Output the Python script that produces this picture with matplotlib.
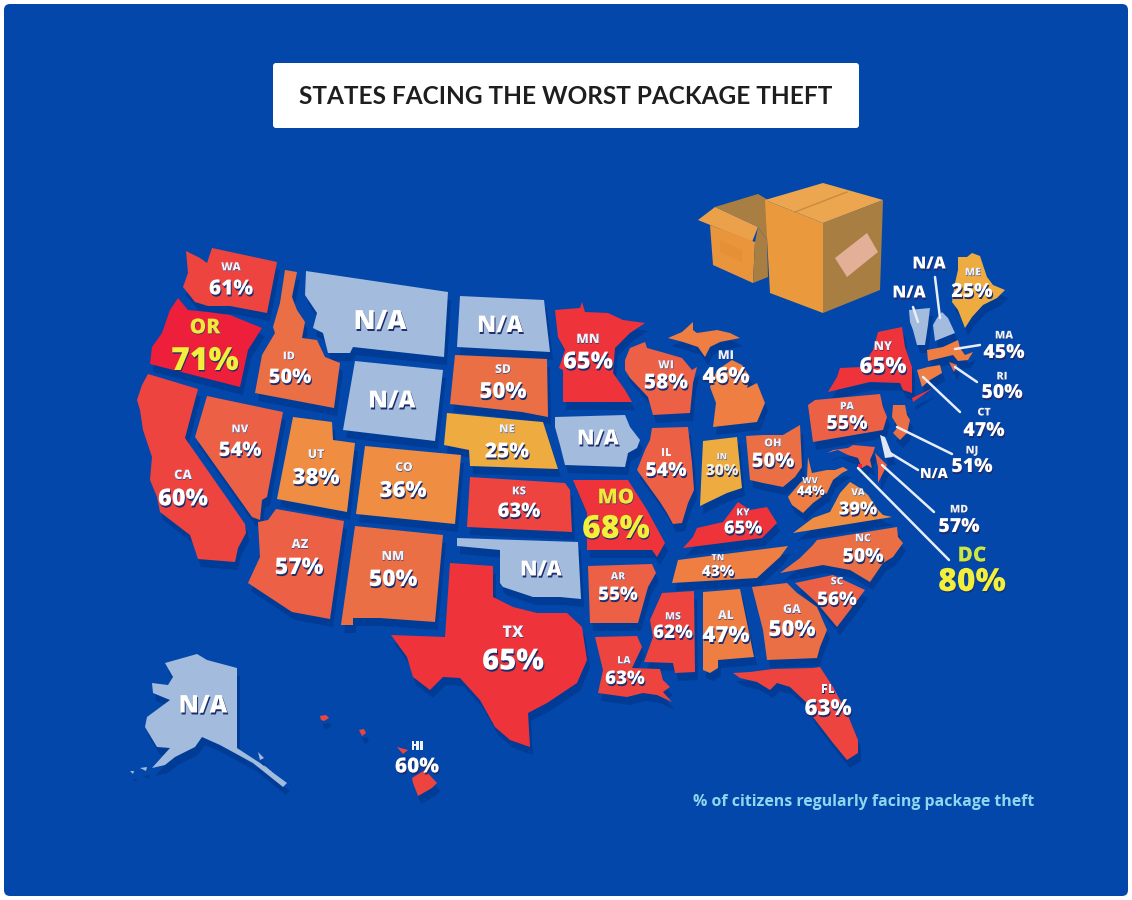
import matplotlib
matplotlib.use("Agg")
import matplotlib.pyplot as plt
import matplotlib.patheffects as pe
from matplotlib.patches import FancyBboxPatch

BG = '#0447aa'
SHADOW = '#003c96'
NA_COLOR = '#a3bbdc'

STATES = ['WA', 'OR', 'CA', 'NV', 'ID', 'MT', 'WY', 'UT', 'CO', 'AZ', 'NM', 'ND', 'SD', 'NE', 'KS', 'OK', 'TX',
          'MN', 'IA', 'MO', 'AR', 'LA', 'WI', 'IL', 'MI', 'IN', 'OH', 'KY', 'TN', 'MS', 'AL', 'GA', 'FL', 'SC', 'NC',
          'VA', 'WV', 'PA', 'NY', 'ME', 'VT', 'NH', 'MA', 'RI', 'CT', 'NJ', 'DE', 'MD', 'DC', 'AK', 'HI']
VALUES = [61, 71, 60, 54, 50, None, None, 38, 36, 57, 50, None, 50, 25, 63, None, 65,
          65, None, 68, 55, 63, 58, 54, 46, 30, 50, 65, 43, 62, 47, 50, 63, 56, 50,
          39, 44, 55, 65, 25, None, None, 45, 50, 47, 51, None, 57, 80, None, 60]

# state outlines, in image pixels
SHAPES = {
    'WA': [[(186,251),(200,258),(207,263),(212,248),(277,262),(267,313),(230,306),(208,306),(195,302),(183,287),(188,273)]],
    'OR': [[(178,298),(188,310),(208,312),(230,315),(262,328),(248,350),(240,387),(150,364),(152,347),(162,333),(170,310)]],
    'CA': [[(148,374),(198,389),(185,438),(245,524),(246,533),(238,548),(235,562),(198,559),(190,535),(160,512),(157,497),(150,480),(152,457),(143,430),(140,410),(137,400),(142,385)]],
    'NV': [[(207,396),(283,412),(267,497),(262,500),(260,520),(252,517),(195,437)]],
    'ID': [[(285,270),(297,272),(292,297),(297,310),(305,322),(302,338),(317,340),(325,357),(340,363),(334,408),(255,393),(262,355),(275,333),(273,327),(280,303)]],
    'MT': [[(306,271),(448,292),(444,357),(353,347),(350,353),(328,353),(323,333),(313,328),(317,313),(305,295)]],
    'WY': [[(355,361),(443,370),(435,441),(343,430)]],
    'UT': [[(293,417),(332,422),(333,440),(355,443),(347,512),(277,499)]],
    'CO': [[(365,446),(461,455),(455,524),(356,514)]],
    'AZ': [[(276,509),(344,521),(330,619),(292,612),(248,583),(260,557),(258,522),(268,520)]],
    'NM': [[(355,526),(443,535),(435,622),(380,618),(353,618),(353,625),(341,625)]],
    'ND': [[(460,296),(544,300),(550,352),(457,347)]],
    'SD': [[(455,355),(547,359),(548,417),(522,412),(450,404)]],
    'NE': [[(447,413),(520,420),(543,422),(558,469),(470,466),(469,450),(444,445)]],
    'KS': [[(470,477),(565,483),(570,490),(572,532),(467,527)]],
    'OK': [[(457,538),(578,542),(581,599),(560,597),(533,597),(503,587),(500,583),(500,550),(457,546)]],
    'TX': [[(450,563),(493,566),(493,597),(513,607),(537,613),(567,613),(582,627),(587,660),(577,683),(547,703),(528,713),(530,747),(510,740),(495,727),(480,700),(460,678),(443,677),(430,690),(413,677),(407,657),(391,635),(445,637)]],
    'MN': [[(555,310),(580,308),(582,302),(585,312),(608,313),(623,320),(645,323),(630,333),(615,348),(613,373),(625,390),(632,402),(563,402),(563,370),(559,368),(565,350),(558,337)]],
    'IA': [[(555,417),(625,415),(630,427),(640,440),(637,448),(628,453),(625,467),(565,465),(560,445),(555,427)]],
    'MO': [[(573,480),(628,480),(647,510),(665,543),(657,557),(652,550),(587,550),(587,513)]],
    'AR': [[(588,566),(652,564),(656,573),(648,587),(638,623),(590,623)]],
    'LA': [[(595,637),(637,636),(642,647),(632,668),(660,669),(663,680),(670,687),(663,692),(672,702),(657,695),(643,693),(627,697),(598,693),(603,670)]],
    'WI': [[(625,360),(630,348),(645,342),(647,348),(665,353),(682,358),(692,370),(697,367),(693,383),(690,413),(653,415),(648,397),(630,378),(625,370)]],
    'IL': [[(652,428),(688,427),(692,463),(694,490),(688,503),(682,523),(673,524),(667,513),(660,502),(637,470),(645,450),(650,440)]],
    'MI': [[(668,338),(682,332),(693,322),(693,330),(697,333),(717,330),(730,333),(740,338),(720,342),(710,347),(705,357),(698,347),(683,342)],
           [(732,360),(742,365),(750,377),(747,388),(757,383),(765,403),(757,422),(713,427),(716,403),(710,387),(717,370)]],
    'IN': [[(703,441),(737,437),(742,488),(727,493),(700,506)]],
    'OH': [[(746,436),(763,435),(783,435),(800,425),(802,467),(795,477),(783,487),(763,483),(750,480)]],
    'KY': [[(738,502),(750,510),(767,507),(777,523),(762,538),(683,548),(693,537),(697,528),(723,522)]],
    'TN': [[(678,560),(788,546),(780,557),(757,578),(672,583)]],
    'MS': [[(662,593),(694,591),(695,672),(675,673),(673,663),(644,662),(653,637),(650,620)]],
    'AL': [[(703,592),(740,589),(754,657),(718,660),(718,668),(710,673),(703,670)]],
    'GA': [[(752,587),(787,583),(797,593),(817,607),(827,630),(820,647),(817,658),(767,660),(763,630)]],
    'FL': [[(733,673),(750,672),(773,669),(813,668),(820,667),(833,687),(847,713),(858,740),(858,753),(847,760),(833,743),(823,730),(813,717),(807,703),(790,687),(777,683),(770,690),(757,682),(740,678)]],
    'SC': [[(795,583),(833,575),(865,590),(850,610),(837,627),(817,603)]],
    'NC': [[(897,527),(898,537),(903,543),(893,557),(883,563),(870,582),(850,570),(823,565),(780,573),(800,558),(813,545),(817,540)]],
    'VA': [[(850,482),(860,488),(868,495),(878,510),(883,515),(892,517),(793,533),(813,518),(830,512),(840,493)]],
    'WV': [[(808,457),(812,473),(827,470),(835,470),(843,467),(848,470),(842,473),(833,480),(827,493),(813,503),(803,513),(792,505),(788,497),(800,483),(807,477)]],
    'PA': [[(808,405),(815,400),(880,394),(883,407),(887,417),(883,430),(813,442)]],
    'NY': [[(878,332),(902,327),(905,347),(912,367),(912,393),(903,390),(900,383),(870,382),(828,392),(837,377),(840,368),(862,367),(873,350)],
           [(912,398),(933,388),(913,402)]],
    'ME': [[(958,257),(967,257),(972,253),(980,256),(987,277),(993,285),(1005,290),(997,298),(983,305),(972,317),(965,328),(958,310),(952,302),(955,283),(958,270)]],
    'VT': [[(909,310),(930,308),(928,325),(925,345),(917,345),(913,330),(910,322)]],
    'NH': [[(937,318),(942,312),(948,318),(955,333),(935,341),(933,325)]],
    'MA': [[(927,350),(943,347),(958,340),(960,348),(965,355),(973,352),(968,360),(958,361),(953,355),(928,361)]],
    'RI': [[(949,362),(957,365),(954,372)]],
    'CT': [[(917,370),(928,367),(940,365),(942,373),(930,380),(922,387)]],
    'NJ': [[(893,405),(905,405),(907,415),(910,420),(907,433),(900,440),(893,433),(898,427),(892,417)]],
    'DE': [[(880,435),(885,437),(893,457),(885,458)]],
    'MD': [[(827,453),(833,450),(848,448),(853,445),(875,447),(873,453),(870,460),(872,468),(867,465),(862,468),(858,458),(848,455),(838,450)],
           [(875,453),(887,465),(878,483),(878,467)]],
    'DC': [[(858,464),(862,464),(862,468),(858,468)]],
    'AK': [[(165,663),(197,654),(207,660),(237,668),(237,748),(260,763),(287,783),(283,787),(253,763),(220,745),(202,737),(195,747),(175,757),(165,765),(152,768),(170,748),(157,747),(145,727),(147,717),(170,700),(153,693),(152,683),(168,685),(173,677)],
           [(258,752),(264,758),(260,760)], [(264,765),(272,772),(268,774)], [(140,768),(147,767),(146,771)], [(130,771),(134,771),(133,774)]],
    'HI': [[(412,778),(425,770),(437,783),(432,788),(418,796),(413,783)], [(397,747),(408,750),(403,754)],
           [(320,716),(326,715),(329,718),(324,721),(321,720)], [(359,730),(364,729),(366,733),(362,736)]],
}

# abbr x, abbr y, value x, value y, value size
LABELS = {
    'WA': (231,268,231,289,15), 'OR': (205,328,205,362,23), 'CA': (183,476,183,499,17), 'ID': (289,357,290,378,14.5),
    'NV': (240,430,240,451,14.5), 'UT': (316,455,316,478,16), 'CO': (404,468,403,491,16), 'AZ': (300,545,299,568,16.5),
    'NM': (393,557,393,580,16.5), 'SD': (503,370,503,392,16), 'NE': (507,430,507,452,15), 'KS': (519,492,519,512,14.5),
    'TX': (513,633,513,662,21), 'MN': (588,340,588,362,17), 'WI': (666,366,666,383,15), 'MI': (726,356,726,377,16),
    'IL': (666,453,666,471,14), 'IN': (722,457,722,471,11), 'OH': (773,444,773,462,14.5), 'WV': (810,481,811,492,9.5),
    'VA': (858,493,858,510,13), 'KY': (743,513,743,529,13), 'TN': (718,558,718,572,11), 'NC': (863,539,863,557,14),
    'SC': (837,582,837,600,13.5), 'GA': (792,610,792,630,16), 'AL': (726,616,726,636,16), 'MS': (673,617,673,633,13.5),
    'LA': (624,661,625,679,13.5), 'AR': (618,577,618,595,13.5), 'MO': (616,498,616,530,23), 'FL': (828,690,828,709,16),
    'PA': (847,407,847,424,14), 'NY': (883,347,883,367,16), 'ME': (973,273,972,292,14), 'HI': (417,747,417,767,15),
    'MA': (1004,336,1004,353,14), 'RI': (1002,377,1002,393,14), 'CT': (984,413,984,431,14), 'NJ': (972,451,972,467,14),
    'MD': (959,510,959,527,14), 'DC': (972,556,972,583,23),
}
# x, y, size
NA_LABELS = {
    'MT': (380,322,19), 'WY': (392,401,17), 'ND': (500,326,16.5), 'OK': (541,570,15), 'IA': (598,439,15),
    'AK': (203,706,17.5), 'DE': (934,474,10), 'VT': (909,293,12), 'NH': (929,264,12),
}
LEADERS = [((980,345),(955,349)), ((977,382),(955,367)), ((960,412),(923,377)), ((952,454),(897,427)),
           ((918,470),(890,453)), ((934,512),(882,465)), ((949,560),(858,468)), ((918,322),(913,307)),
           ((940,318),(935,277))]


def stateColor(v):
    if v is None:
        return NA_COLOR
    if v >= 70:
        return '#ee1f3a'
    if v >= 64:
        return '#ee343a'
    if v >= 60:
        return '#ee4440'
    if v >= 53:
        return '#ec6146'
    if v >= 48:
        return '#eb6f45'
    if v >= 40:
        return '#ee7e42'
    if v >= 33:
        return '#ef8e43'
    return '#eeac40'


fig = plt.figure(figsize=(11.32, 9), dpi=100, facecolor='white')
ax = fig.add_axes([0, 0, 1, 1])
ax.set_xlim(0, 1132)
ax.set_ylim(900, 0)
ax.axis('off')

ax.add_patch(FancyBboxPatch((8, 8), 1116, 884, boxstyle='round,pad=4,rounding_size=6', fc=BG, ec='none'))
ax.add_patch(FancyBboxPatch((275, 65), 582, 61, boxstyle='round,pad=2,rounding_size=3', fc='white', ec='none'))
ax.text(566, 96, 'STATES FACING THE WORST PACKAGE THEFT', family='Lato', weight='bold', fontsize=17.6,
        color='#1e1e1e', ha='center', va='center')

# shadows go under every state
for state in STATES:
    for poly in SHAPES[state]:
        ax.fill([p[0] + 3 for p in poly], [p[1] + 8 for p in poly], color=SHADOW, lw=0, zorder=2)

for state, value in zip(STATES, VALUES):
    for poly in SHAPES[state]:
        color = stateColor(value)
        if state == 'DE':
            color = '#dfe8f4'
        ax.fill([p[0] for p in poly], [p[1] for p in poly], color=color, lw=0, zorder=3)

# cardboard boxes
BOX_FACES = [
    ([(715,207),(758,194),(768,200),(767,240),(758,227)], '#a97e42'),
    ([(698,220),(715,207),(758,227),(752,242)], '#eba04a'),
    ([(710,225),(755,242),(753,283),(713,265)], '#e8953c'),
    ([(720,240),(742,250),(742,262),(720,252)], '#e78f36'),
    ([(758,227),(767,240),(768,277),(753,283),(755,242)], '#a97e42'),
    ([(765,200),(823,223),(823,313),(770,293)], '#ea9a3c'),
    ([(823,223),(883,200),(880,290),(823,313)], '#a97e42'),
    ([(765,200),(823,183),(883,200),(823,223)], '#eca650'),
    ([(835,258),(867,233),(878,252),(847,277)], '#e3b097'),
]
for poly, color in BOX_FACES:
    ax.fill([p[0] for p in poly], [p[1] for p in poly], color=color, lw=0, zorder=3)
ax.plot([795, 847], [212, 192], color='#c98a3e', lw=1, zorder=4)

for a, b in LEADERS:
    ax.plot([a[0], b[0]], [a[1], b[1]], color='#e8eef8', lw=1.8, zorder=4, solid_capstyle='round')


def labelText(x, y, s, size, color='white', depth=1.4):
    ax.text(x, y, s, family='Open Sans', weight='extra bold', fontsize=size, color=color, ha='center', va='center', zorder=5,
            path_effects=[pe.withSimplePatchShadow(offset=(depth * 0.5, -depth), shadow_rgbFace='#1c2c6c', alpha=1)])


values = dict(zip(STATES, VALUES))
for state, (ax_, ay, vx, vy, size) in LABELS.items():
    if state in ('OR', 'MO', 'DC'):
        labelText(ax_, ay, state, 15, color='#f2e83c' if state != 'DC' else '#c8e84a', depth=0.5)
        labelText(vx, vy, '%d%%' % values[state], size, color='#f2f03a', depth=1.0)
    else:
        labelText(ax_, ay, state, max(size * 0.55, 6.5), color='#eef2fa', depth=0.4)
        labelText(vx, vy, '%d%%' % values[state], size, color='white' if state != 'IN' else '#f6efd8')

for state, (x, y, size) in NA_LABELS.items():
    labelText(x, y, 'N/A', size)

ax.text(693, 802, '% of citizens regularly facing package theft', family='Open Sans', weight='bold', fontsize=11.4,
        color='#8fd6ee', ha='left', va='center', zorder=5)

fig.savefig('out.png', dpi=100, facecolor='white')
